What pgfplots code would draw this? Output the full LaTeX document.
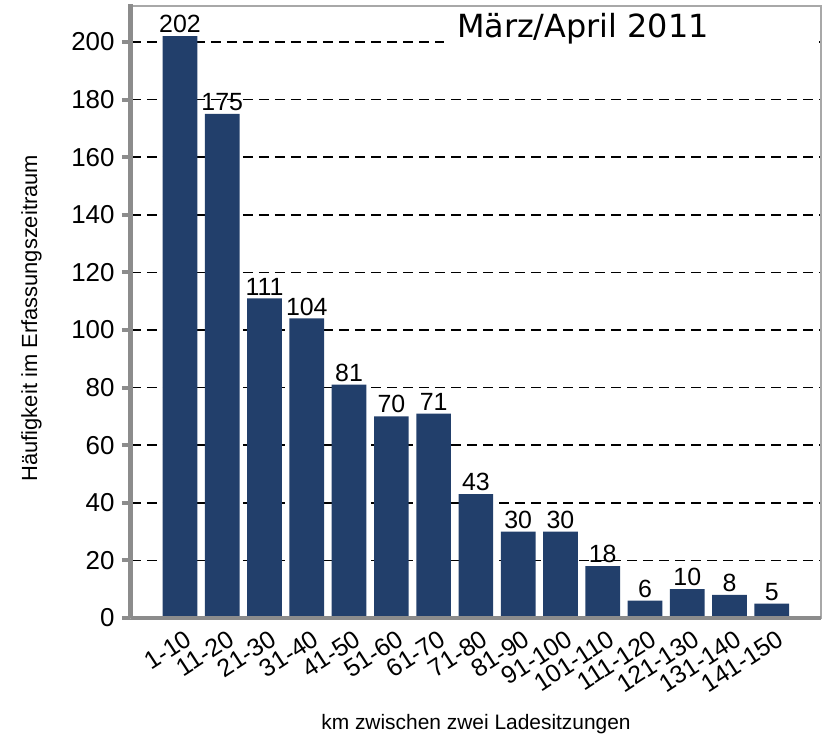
\documentclass[border=0pt]{standalone}
\usepackage{fontspec}
\setmainfont{Liberation Sans}
\newfontfamily\titlefont{DejaVu Sans}
\usepackage{pgfplots}
\pgfplotsset{compat=1.18}
\definecolor{barblue}{HTML}{223F6B}
\definecolor{axgray}{HTML}{8C8C8C}
\definecolor{boxgray}{HTML}{A8A8A8}
\begin{document}
\begin{tikzpicture}
\useasboundingbox (-131bp,-120bp) rectangle (694bp,618bp);
\begin{axis}[
  at={(0,0)}, anchor=south west,
  width=690bp, height=612bp, scale only axis,
  xmin=-1.159, xmax=15.164, ymin=0, ymax=212.5,
  ybar, bar width=0.82,
  clip=false,
  xtick={0,1,...,14},
  xticklabels={1-10,11-20,21-30,31-40,41-50,51-60,61-70,71-80,81-90,91-100,101-110,111-120,121-130,131-140,141-150},
  ytick={0,20,...,200},
  ytick pos=left,
  xtick pos=bottom,
  tick align=outside,
  major tick length=9bp,
  xtick style={draw=none},
  ytick style={axgray, line width=4bp},
  ymajorgrids,
  grid style={black, line width=1.7bp, dash pattern=on 10bp off 6bp},
  axis line style={boxgray, line width=2bp},
  /pgf/number format/assume math mode=true,
  yticklabel style={font=\fontsize{26}{28}\selectfont, xshift=-4bp},
  xticklabel style={font=\fontsize{25}{27}\selectfont, xshift=5bp, yshift=3bp, rotate=33, anchor=north east},
  nodes near coords,
  every node near coord/.append style={font=\fontsize{25}{27}\selectfont, black, inner sep=1bp, yshift=2bp},
  xlabel={km zwischen zwei Ladesitzungen},
  xlabel style={font=\fontsize{21}{23}\selectfont, at={(axis description cs:0.5,-0.183)}, anchor=base},
  ylabel={Häufigkeit im Erfassungszeitraum},
  ylabel style={font=\fontsize{22}{24}\selectfont, at={(axis description cs:-0.136,0.49)}, anchor=base, rotate=0},
]
\addplot[fill=barblue, draw=none] coordinates {
(0,202) (1,175) (2,111) (3,104) (4,81) (5,70) (6,71) (7,43)
(8,30) (9,30) (10,18) (11,6) (12,10) (13,8) (14,5)};
\fill[white] (rel axis cs:0.453,0.931) rectangle (rel axis cs:0.996,0.993);
\node[font=\titlefont\fontsize{32}{34}\selectfont, anchor=base] at (axis description cs:0.655,0.949) {März/April 2011};
\draw[axgray, line width=5bp] (rel axis cs:0,0) -- (rel axis cs:0,1.003);
\draw[axgray, line width=4bp] (rel axis cs:0,0) -- (rel axis cs:1,0);
\end{axis}
\end{tikzpicture}
\end{document}
